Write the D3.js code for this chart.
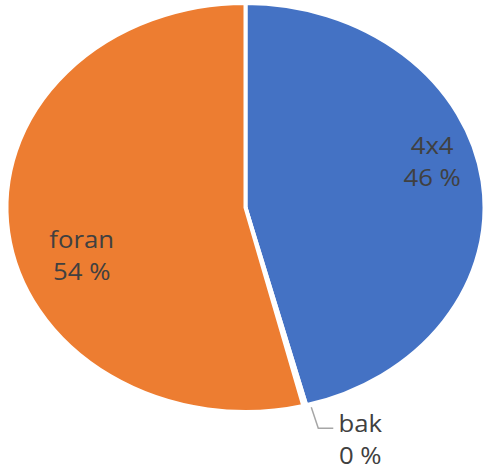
<!DOCTYPE html>
<html lang="no">
<head>
<meta charset="UTF-8">
<title>Pie</title>
<script src="https://d3js.org/d3.v7.min.js"></script>
<style>
  body { margin: 0; background: #fff; }
  text { font-family: "Open Sans", sans-serif; font-size: 23px; fill: #404040; }
</style>
</head>
<body>
<div id="chart"></div>
<script>
const categories = ["4x4", "bak", "foran"];
const values = [46, 0.2, 54];
const colors = ["#4472C4", "#A5A5A5", "#ED7D31"];

const width = 484, height = 470;
const cx = 245.5, cy = 207.5;
const R = 204.5;        // base radius (vertical)
const sx = 239 / R;     // horizontal stretch of the picture

const svg = d3.select("#chart").append("svg")
    .attr("width", width)
    .attr("height", height);

const pie = d3.pie().sort(null).value(d => d.value);
const arcs = pie(categories.map((c, i) => ({ name: c, value: values[i], color: colors[i] })));
const total = d3.sum(values);

const arc = d3.arc().innerRadius(0).outerRadius(R);

const g = svg.append("g")
    .attr("transform", `translate(${cx},${cy}) scale(${sx},1)`);

g.selectAll("path")
    .data(arcs)
    .join("path")
    .attr("d", arc)
    .attr("fill", d => d.data.color)
    .attr("stroke", "#fff")
    .attr("stroke-width", 4)
    .attr("vector-effect", "non-scaling-stroke");

const labelArc = d3.arc().innerRadius(R * 0.8).outerRadius(R * 0.8);
// nudges so the labels sit where Excel put them
const offsets = { "4x4": [-3, -33], "foran": [26, 21] };

function pct(v) { return Math.round(v / total * 100) + " %"; }

arcs.forEach(d => {
  const name = d.data.name;
  let x, y;
  if (name === "bak") {
    // tiny slice: label outside with a leader line
    const a = d.startAngle;
    const px = cx + Math.sin(a) * R * sx, py = cy - Math.cos(a) * R;
    svg.append("path")
      .attr("d", `M${px + 5},${py + 2} L${px + 12},${py + 23} L${px + 27},${py + 23}`)
      .attr("fill", "none")
      .attr("stroke", "#A6A6A6")
      .attr("stroke-width", 1.5);
    x = px + 54; y = py + 27;
  } else {
    const c = labelArc.centroid(d);
    x = cx + c[0] * sx + offsets[name][0];
    y = cy + c[1] + offsets[name][1];
  }
  const t = svg.append("text")
      .attr("text-anchor", "middle")
      .attr("transform", `translate(${x},${y}) scale(1.12,1)`);
  t.append("tspan").attr("x", 0).attr("y", 0).text(name);
  t.append("tspan").attr("x", 0).attr("y", 32).text(pct(d.data.value));
});
</script>
</body>
</html>
